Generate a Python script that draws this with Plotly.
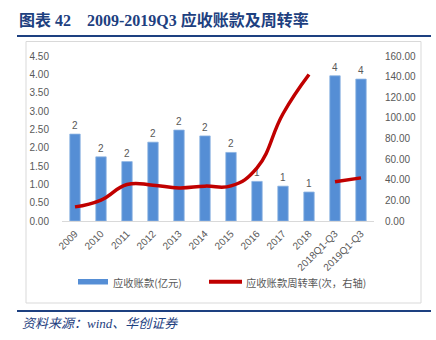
import plotly.graph_objects as go

categories = ["2009", "2010", "2011", "2012", "2013", "2014", "2015", "2016",
              "2017", "2018", "2018Q1-Q3", "2019Q1-Q3"]
receivables = [2.37, 1.75, 1.62, 2.15, 2.48, 2.32, 1.87, 1.08, 0.95, 0.79, 3.96, 3.87]
turnover_annual = [13.7, 20.3, 35.4, 34.7, 32.1, 33.8, 34.0, 51.5, 104, 142]
turnover_quarter = [38, 41.8]

left_ticks = [0, 0.5, 1, 1.5, 2, 2.5, 3, 3.5, 4, 4.5]
right_ticks = [0, 20, 40, 60, 80, 100, 120, 140, 160]

W, H = 436, 340
L, R, T, B = 62, 62, 56, 119
pw, ph = W - L - R, H - T - B


def px(x):
    return (x - L) / pw


def py(y):
    return (H - B - y) / ph


GRAY = "#595959"
NAVY = "#1d4080"
BLUE = "#558ed5"
RED = "#c00000"

fig = go.Figure()
fig.add_trace(go.Bar(
    x=categories, y=receivables, name="应收账款(亿元)",
    marker=dict(color=BLUE, line=dict(color="#8db4e2", width=0.8)),
    width=0.4,
    text=[f"{v:.0f}" for v in receivables], textposition="outside",
    textfont=dict(color=GRAY, size=10, family="Liberation Sans"),
    cliponaxis=False, showlegend=False,
))
fig.add_trace(go.Scatter(
    x=categories[:10], y=turnover_annual, yaxis="y2", mode="lines",
    line=dict(color=RED, width=3.5, shape="spline", smoothing=1.3),
    showlegend=False,
))
fig.add_trace(go.Scatter(
    x=categories[10:], y=turnover_quarter, yaxis="y2", mode="lines",
    line=dict(color=RED, width=3.5, shape="spline", smoothing=1.3),
    showlegend=False,
))

shapes = [
    # title underline
    dict(type="line", xref="paper", yref="paper", x0=px(17), x1=px(431),
         y0=py(36), y1=py(36), line=dict(color=NAVY, width=2)),
    # frame
    dict(type="rect", xref="paper", yref="paper", x0=px(26), x1=px(421),
         y0=py(303), y1=py(41.5), line=dict(color="#d9d9d9", width=1),
         layer="below"),
    # footer line
    dict(type="line", xref="paper", yref="paper", x0=px(17), x1=px(431),
         y0=py(311), y1=py(311), line=dict(color=NAVY, width=2)),
    # legend symbols
    dict(type="rect", xref="paper", yref="paper", x0=px(78), x1=px(108),
         y0=py(284.5), y1=py(279), line=dict(width=0), fillcolor=BLUE),
    dict(type="line", xref="paper", yref="paper", x0=px(209), x1=px(242),
         y0=py(281.8), y1=py(281.8), line=dict(color=RED, width=4)),
]

annotations = [
    dict(text="图表 42\u00a0\u00a0\u00a0\u00a02009-2019Q3 应收账款及周转率",
         xref="paper", yref="paper", x=px(17), y=py(19.5),
         xanchor="left", yanchor="middle", showarrow=False,
         font=dict(family="Liberation Serif, Noto Sans CJK SC", size=16,
                   color=NAVY, weight="bold")),
    dict(text="<i>资料来源：wind、华创证券</i>",
         xref="paper", yref="paper", x=px(20), y=py(323.5),
         xanchor="left", yanchor="middle", showarrow=False,
         font=dict(family="Liberation Serif, Noto Sans CJK SC", size=13,
                   color=NAVY)),
    dict(text="应收账款(亿元)", xref="paper", yref="paper", x=px(111),
         y=py(282), xanchor="left", yanchor="middle", showarrow=False,
         font=dict(family="Noto Sans CJK SC", size=10.3, color=GRAY)),
    dict(text="应收账款周转率(次，右轴)", xref="paper", yref="paper", x=px(244),
         y=py(282), xanchor="left", yanchor="middle", showarrow=False,
         font=dict(family="Noto Sans CJK SC", size=10.3, color=GRAY)),
]

fig.update_layout(
    width=W, height=H,
    margin=dict(l=L, r=R, t=T, b=B, pad=0),
    paper_bgcolor="white", plot_bgcolor="white",
    font=dict(family="Liberation Sans", color=GRAY, size=10),
    bargap=0.6,
    xaxis=dict(type="category", tickangle=-45, showgrid=False,
               showline=True, linecolor="#d9d9d9", linewidth=1,
               ticks="", tickfont=dict(size=10, color=GRAY),
               ticklabelstandoff=2),
    yaxis=dict(range=[0, 4.5], tickvals=left_ticks,
               ticktext=[f"{v:.2f}" for v in left_ticks],
               showgrid=False, zeroline=False, showline=False,
               tickfont=dict(size=10, color=GRAY), ticklabelstandoff=12),
    yaxis2=dict(range=[0, 160], tickvals=right_ticks,
                ticktext=[f"{v:.2f}" for v in right_ticks],
                overlaying="y", side="right", showgrid=False,
                zeroline=False, showline=False,
                tickfont=dict(size=10, color=GRAY), ticklabelstandoff=10),
    shapes=shapes, annotations=annotations, showlegend=False,
)

fig.write_html("out.html")
